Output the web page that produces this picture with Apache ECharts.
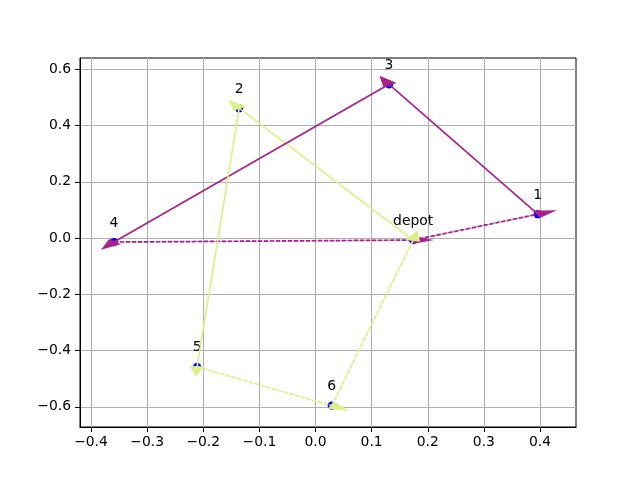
<!DOCTYPE html>
<html>
<head>
<meta charset="utf-8">
<script src="https://cdn.jsdelivr.net/npm/echarts@6/dist/echarts.min.js"></script>
<style>html,body{margin:0;padding:0;background:#fff;}#c{width:640px;height:480px;}</style>
</head>
<body>
<div id="c"></div>
<script>
// ---- data ----
const nodeNames = ['depot', '1', '2', '3', '4', '5', '6'];
const nodeX = [0.174, 0.396, -0.136, 0.131, -0.359, -0.211, 0.029];
const nodeY = [-0.007, 0.085, 0.462, 0.547, -0.014, -0.458, -0.596];
const routeA = [0, 1, 3, 4, 0];   // purple route
const routeB = [0, 2, 5, 6, 0];   // yellow-green route
const xTicks = [-0.4, -0.3, -0.2, -0.1, 0.0, 0.1, 0.2, 0.3, 0.4];
const yTicks = [-0.6, -0.4, -0.2, 0.0, 0.2, 0.4, 0.6];

// ---- build ----
const colors = ['#a8228c', '#dcf08a'];
function edgesOf(route, ci) {
  const out = [];
  for (let i = 0; i < route.length - 1; i++) {
    const a = route[i], b = route[i + 1];
    out.push([nodeX[a], nodeY[a], nodeX[b], nodeY[b], ci]);
  }
  return out;
}
const eA = edgesOf(routeA, 0), eB = edgesOf(routeB, 1);
// drawing order
const edges = [eB[0], eA[0], eA[1], eA[2], eA[3], eB[1], eB[2], eB[3]];
const dashedIdx = {1: true, 4: true, 6: true, 7: true};

const fmt = v => (v < 0 ? '\u2212' : '') + Math.abs(v).toFixed(1);
const font = 'DejaVu Sans';

function renderItem(params, api) {
  const x1 = api.value(0), y1 = api.value(1), x2 = api.value(2), y2 = api.value(3);
  const col = colors[api.value(4)];
  const dx = x2 - x1, dy = y2 - y1, L = Math.hypot(dx, dy);
  const ux = dx / L, uy = dy / L;
  const hw = 0.022 / 2, hl = 0.03;
  const p1 = api.coord([x1, y1]), p2 = api.coord([x2, y2]);
  const tip = api.coord([x2 + ux * hl, y2 + uy * hl]);
  const b1 = api.coord([x2 - uy * hw, y2 + ux * hw]);
  const b2 = api.coord([x2 + uy * hw, y2 - ux * hw]);
  const dashed = dashedIdx[params.dataIndex];
  const children = [];
  if (dashed) {
    children.push({type: 'line', shape: {x1: p1[0], y1: p1[1], x2: p2[0], y2: p2[1]},
      style: {stroke: col, lineWidth: 1.3, opacity: 0.45}});
    children.push({type: 'line', shape: {x1: p1[0], y1: p1[1], x2: p2[0], y2: p2[1]},
      style: {stroke: col, lineWidth: 1.7, lineDash: [4, 2]}});
  } else {
    children.push({type: 'line', shape: {x1: p1[0], y1: p1[1], x2: p2[0], y2: p2[1]},
      style: {stroke: col, lineWidth: 1.7}});
  }
  children.push({type: 'polygon', shape: {points: [b1, tip, b2]},
    style: {fill: col, stroke: col, lineWidth: 1.5, lineJoin: 'miter'}});
  return {type: 'group', children: children};
}

const chart = echarts.init(document.getElementById('c'));
chart.setOption({
  animation: false,
  backgroundColor: '#fff',
  grid: {left: 80, right: 64, top: 58, bottom: 53, show: true, borderColor: '#000', borderWidth: 1, backgroundColor: 'transparent'},
  xAxis: {
    type: 'value', min: -0.4196, max: 0.4641,
    axisLine: {show: true, onZero: false, lineStyle: {color: '#000', width: 1}},
    axisTick: {show: true, customValues: xTicks, length: 5, lineStyle: {color: '#000'}},
    axisLabel: {customValues: xTicks, formatter: fmt, color: '#000', fontFamily: font, fontSize: 13.9, margin: 8},
    splitLine: {show: true, lineStyle: {color: '#b0b0b0', width: 1}}
  },
  yAxis: {
    type: 'value', min: -0.6717, max: 0.6405,
    axisLine: {show: true, onZero: false, lineStyle: {color: '#000', width: 1}},
    axisTick: {show: true, customValues: yTicks, length: 5, lineStyle: {color: '#000'}},
    axisLabel: {customValues: yTicks, formatter: fmt, color: '#000', fontFamily: font, fontSize: 13.9, margin: 9},
    splitLine: {show: true, lineStyle: {color: '#b0b0b0', width: 1}}
  },
  series: [
    {
      type: 'scatter', z: 2,
      symbolSize: 8.3,
      itemStyle: {color: '#0000ff', opacity: 1},
      data: nodeNames.map((n, i) => ({value: [nodeX[i], nodeY[i]], name: n})),
      label: {show: true, position: 'top', distance: 8, formatter: p => p.name,
        color: '#000', fontFamily: font, fontSize: 13.9}
    },
    {
      type: 'custom', z: 3,
      renderItem: renderItem,
      clip: false,
      encode: {x: [0, 2], y: [1, 3]},
      data: edges
    }
  ]
});
</script>
</body>
</html>
